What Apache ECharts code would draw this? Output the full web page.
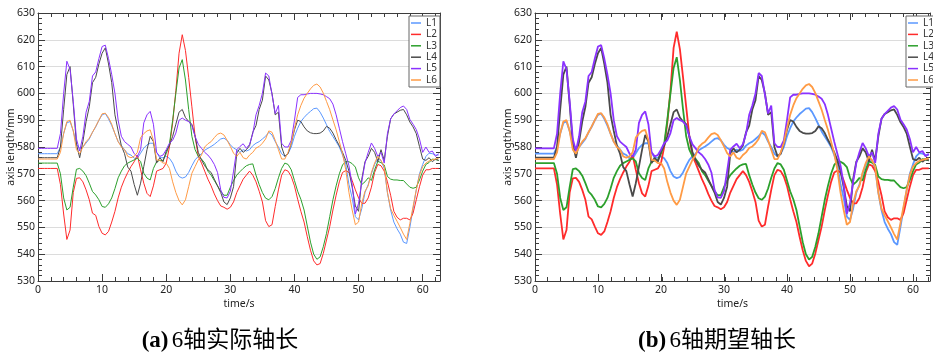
<!DOCTYPE html>
<html>
<head>
<meta charset="utf-8">
<script src="https://cdn.jsdelivr.net/npm/echarts@6/dist/echarts.min.js"></script>
<style>
html,body{margin:0;padding:0;background:#fff;}
#chart{width:933px;height:354px;}
</style>
</head>
<body>
<div id="chart"></div>
<script>
// Sample times (s): every 0.5 s from 0 to 62.5
const time = Array.from({length: 126}, (_, i) => i * 0.5);

const names = ['L1', 'L2', 'L3', 'L4', 'L5', 'L6'];
const colors = ['#5b98ff', '#ff2b2b', '#2ca02c', '#4a4a4a', '#8a32ff', '#ff9b45'];
const xTicks = [0, 10, 20, 30, 40, 50, 60];
const yTicks = [530, 540, 550, 560, 570, 580, 590, 600, 610, 620, 630];

// (a) measured axis lengths, mm (10 values per row = 5 s)
const actL1 = [
  577.5,577.5,577.5,577.5,577.5,577.5,577.5,580,585,589,
  589.5,586,581,579.5,580,581.5,583,585.5,587.5,590,
  592,592.5,590.5,588,585,582,580.5,579,577.5,577,
  575.8,575.8,577.7,579.6,580.8,581.4,581.4,578,576,576,
  576.5,575.8,574,571,569,568.4,568.8,570.5,573,575.2,
  576.5,577.5,578.8,579.5,580.2,581,582,583,583.3,582.5,
  580.8,579.6,579,578,579,578.5,579,580.5,581.4,582,
  583,584,585.5,584.5,582,580,577.5,576.5,577.5,580,
  584,587,589.5,591,592.3,593.3,594.3,594.5,593,590.8,
  588.3,585.8,583.9,582,580,577,573.5,566,561,554,
  552.8,557,563,566,570,573.5,575.5,575,572,563,
  556.5,552,549.5,547.5,544.5,544,550,557,564,570,
  573.5,576.5,577.7,577.5,577,577];
const actL2 = [
  572,572,572,572,572,572,572,566,555,545.5,
  549,563,568.3,568.5,567,564,560.3,555.3,554.5,550.3,
  547.8,547.2,548.5,552,556,561,565,568,570.5,572.7,
  574.5,577,571.5,566.5,562.7,561.5,565.5,571,571.5,572,
  574,580,589,601,615,621.9,616,606,595,584,
  576.5,574,571,568,565.5,562.5,560,558,557.5,556.8,
  557.5,559.5,563,565.5,568,569.5,571,569.5,567,563.5,
  559.5,552.5,550.3,551,557.8,564,569.5,571.5,571,569,
  565.5,560.5,556,552,546.5,541.5,537.5,536,536.5,540.3,
  545.3,550.3,556.5,562,567,570.5,571.2,570.5,567.5,564,
  561,559,559,561,565,570.5,573.5,573,571,567,
  562,556,553.8,552.8,553.4,553.4,552.8,555.3,560.3,565.2,
  569.5,571.5,571.5,572,572,572];
const actL3 = [
  574,574,574,574,574,574,574,570,561,556.5,
  557.5,565,571.7,572,571,569.3,566.5,563.4,562.1,560.3,
  557.8,557.5,558.8,561,564.5,568.5,571,573,574,574.6,
  575.2,575.8,574.6,570.2,568.4,567.7,572,574.5,575,575,
  577.5,581,590,600,609.5,612.6,605,594,584,579,
  576.5,575.5,574,571,569.5,567.5,565.5,563.5,562,562,
  565,567.5,569.5,570.8,572,573,573.5,573.7,569.5,566,
  563,560.9,560.3,561.5,564.5,568.5,572,574,573.5,571.5,
  567.5,563.5,560.5,556.5,550.5,544.5,540,538.1,539,542.8,
  547.8,554,560.3,565.5,570,573.3,574.6,574.5,573.8,572.5,
  568.5,566,567,568.5,567.5,571.5,574.6,574.2,573.3,569,
  568,567.7,567.7,567.5,567.5,566.2,565,564.6,565,567.7,
  571,573.5,574.2,575.5,575.3,575];
const actL4 = [
  576,576,576,576,576,576,576,580,594,607,
  610,596,581,576,582,589.5,595,604,606,611,
  615,617,611,604,592,586,580.5,577.5,572.5,571,
  566,562,566.5,572.7,579,584,582,574,576,574.5,
  578.5,580.5,584,588.5,593,594,591,589.5,588.5,584,
  578,575.2,573,571.5,570.5,568,565.5,563,559.5,558.5,
  561,565.2,577.7,579.5,578,579,580.5,585.5,588,594,
  597.5,606.5,605,600,592,593,580,576.5,577.5,581.4,
  586.4,590,589.5,587.5,586,585.3,585,585,585.2,586,
  587.7,587,585.2,582.7,580.5,578,575,571,565,558,
  556,568,574.5,576.5,579.5,578,574.5,579,575,584,
  590.5,592.3,593,593.7,594,592,589.3,587.5,585,580.2,
  575.5,575,576,574.5,575.5,575];
const actL5 = [
  579.5,579.5,579.5,579.5,579.5,579.5,579.5,585,600,612,
  609,597,583,578.5,584,593,597,606.5,608,613,
  617.5,618,613,607,600,590,584,582,581,580,
  577.5,576.5,579,589,592,593.3,588.5,578,576.5,577,
  579,581.4,582.5,585.2,590,590.8,590,589.5,588,584,
  581,579.5,578,577,575.5,573.5,570.5,564,561.2,561,
  563.5,571,579,580.2,581.2,579.5,581,585,592,595.5,
  600,607.6,606.5,599.5,592.5,595.5,581.4,580,580,582.5,
  590,598.5,599.5,599.5,599.8,600,600,600,599.8,599.5,
  598.8,598,596,592,587,582,577.5,573,566,555,
  559,567,574,578,581.5,579.5,576.5,578,574,585,
  590.5,592.3,593.5,594.7,595.3,594,590.3,588.5,586.5,583,
  578,580,578,578.5,576.5,577.5];
const actL6 = [
  575.5,575.5,575.5,575.5,575.5,575.5,575.5,578,585,589.5,
  590,586,579,577.5,580,582,583.3,585.5,587.7,590,
  592.4,592.6,591,588.5,585,582,580,579,576.5,576,
  576.5,578,583.5,585,586,586.4,582.5,575.2,575,574,
  574,572,567,563,560,558.4,560.3,565.2,570.2,572.7,
  575.2,577,580,581.2,582,583.5,584.8,585.2,584.5,582.5,
  580.2,577.7,576.5,578,576,575.5,577,578,579.6,580.2,
  581.4,583,586,585.5,582.5,579,575.5,575.5,578,581.5,
  587,592,595.5,598.2,600,601.7,603,603.5,602.4,600.1,
  597,593.9,590.1,586.4,582,577.5,571.5,563,556.5,551,
  552,559,563.5,565.5,570.5,574,576.5,575,572.7,563,
  557,554.5,552.3,550,547.5,545.5,551.5,557.8,564,569.5,
  572.7,574,574.8,575.2,575.5,575.8];

// (b) commanded (expected) axis lengths, mm
const expL1 = [
  577.5,577.5,577.5,577.5,577.5,577.5,577.5,580,585,589,
  589.5,586,581,579.5,580,581.5,583,585.5,587.5,590,
  592,592.5,590.5,588,585,582,580.5,579,577.5,577,
  575.8,575.8,577.7,579.6,580.8,581.4,581.4,578,576,576,
  576.5,575.8,574,571,569,568.4,568.8,570.5,573,575.2,
  576.5,577.5,578.8,579.5,580.2,581,582,583,583.3,582.5,
  580.8,579.6,579,578,579,578.5,579,580.5,581.4,582,
  583,584,585.5,584.5,582,580,577.5,576.5,577.5,580,
  584,587,589.5,591,592.3,593.3,594.3,594.5,593,590.8,
  588.3,585.8,583.9,582,580,577,573.5,566,561,554,
  552.8,557,563,566,570,573.5,575.5,575,572,563,
  556.5,552,549.5,547.5,544.5,543.5,550,557,564,570,
  573.5,576.5,577.7,577.5,577,577];
const expL2 = [
  572,572,572,572,572,572,572,566,555,545.5,
  549,563,568.3,568.5,567,564,560.3,554,553,550.3,
  547.8,547.2,548.5,552,556,561,565,568,570.5,572.7,
  574.5,577,571.5,566.5,562.7,561.5,565.5,571,571.5,572,
  574,580,589,601,617,623,616.5,606,595,584,
  576.5,574,571,568,565.5,562.5,560,558,557.5,556.8,
  557.5,559.5,563,565.5,568,569.5,571,569.5,567,563.5,
  559.5,552.5,550.3,551,557.8,564,569.5,571.5,571,569,
  565.5,560.5,556,552,546.5,541.5,537.5,535.5,536.5,540.3,
  545.3,550.3,556.5,562,567,570.5,571.2,570.5,567.5,564,
  561,559,559,561,565,570.5,573.5,573,571,567,
  562,556,553.8,552.8,553.4,553.4,552.8,555.3,560.3,565.2,
  569.5,571.5,571.5,572,572,572];
const expL3 = [
  574,574,574,574,574,574,574,570,561,556.5,
  557.5,565,571.7,572,571,569.3,566.5,563.4,562.1,560.3,
  557.8,557.5,558.8,561,564.5,568.5,571,573,574,574.6,
  575.2,575.8,574.6,570.2,568.4,567.7,572,574.5,575,575,
  577.5,581,590,600,609.5,613.5,605,594,584,579,
  576.5,575.5,574,571,569.5,567.5,565.5,563.5,562,562,
  565,567.5,569.5,570.8,572,573,573.5,573.7,569.5,566,
  563,560.9,560.3,561.5,564.5,568.5,572,574,573.5,571.5,
  567.5,563.5,560.5,556.5,550.5,544.5,540,538,539,542.8,
  547.8,554,560.3,565.5,570,573.3,574.6,574.5,573.8,572.5,
  568.5,566,567,568.5,567.5,571.5,574.6,574.2,573.3,569,
  568,567.7,567.7,567.5,567.5,566.2,565,564.6,565,567.7,
  571,573.5,574.2,575.5,575.3,575];
const expL4 = [
  576,576,576,576,576,576,576,580,594,607,
  610,596,581,576,582,589.5,595,604,606,611,
  615,617,611,604,592,586,580.5,577.5,572.5,571,
  566,561.5,566.5,572.7,579,584.5,582,574,576,574.5,
  578.5,580.5,584,588.5,593,594,591,589.5,588.5,584,
  578,575.2,573,571.5,570.5,568,565.5,563,559.5,558.5,
  561,565.2,577.7,579.5,578,579,580.5,585.5,588,594,
  597.5,606.5,605,600,592,593,580,576.5,577.5,581.4,
  586.4,590,589.5,587.5,586,585.3,585,585,585.2,586,
  587.7,587,585.2,582.7,580.5,578,575,571,565,558,
  556,568,574.5,576.5,579.5,578,574.5,579,575,584,
  590.5,592.3,593,593.7,594,592,589.3,587.5,585,580.2,
  575.5,575,576,574.5,575.5,575];
const expL5 = [
  579.5,579.5,579.5,579.5,579.5,579.5,579.5,585,600,612,
  609,597,583,578.5,584,593,597,606.5,608,613,
  617.5,618,613,607,600,590,584,582,581,580,
  577.5,576.5,579,589,592,593.3,588.5,578,576.5,577,
  579,581.4,582.5,585.2,590,590.8,590,589.5,588,584,
  581,579.5,578,577,575.5,573.5,570.5,564,561.2,561,
  563.5,571,579,580.2,581.2,579.5,581,585,592,595.5,
  600,607.6,606.5,599.5,592.5,595.5,581.4,580,580,582.5,
  590,598.5,599.5,599.5,599.8,600,600,600,599.8,599.5,
  598.8,598,596,592,587,582,577.5,573,566,555,
  559,567,574,578,581.5,579.5,576.5,578,574,585,
  590.5,592.3,593.5,594.7,595.3,594,590.3,588.5,586.5,583,
  578,580,578,578.5,576.5,577.5];
const expL6 = [
  575.5,575.5,575.5,575.5,575.5,575.5,575.5,578,585,589.5,
  590,586,579,577.5,580,582,583.3,585.5,587.7,590,
  592.4,592.6,591,588.5,585,582,580,579,576.5,576,
  576.5,578,583.5,585,586,586.4,582.5,575.2,575,574,
  574,572,567,563,560,558.4,560.3,565.2,570.2,572.7,
  575.2,577,580,581.2,582,583.5,584.8,585.2,584.5,582.5,
  580.2,577.7,576.5,578,576,575.5,577,578,579.6,580.2,
  581.4,583,586,585.5,582.5,579,575.5,575.5,578,581.5,
  587,592,595.5,598.2,600,601.7,603,603.5,602.4,600.1,
  597,593.9,590.1,586.4,582,577.5,571.5,563,556.5,551,
  552,559,563.5,565.5,570.5,574,576.5,575,572.7,563,
  557,554.5,552.3,550,547.5,545.5,551.5,557.8,564,569.5,
  572.7,574,574.8,575.2,575.5,575.8];

const actual = [actL1, actL2, actL3, actL4, actL5, actL6];
const expected = [expL1, expL2, expL3, expL4, expL5, expL6];

const X_MAX = 62.7;
const AX = '#3c3c3c';
const LABEL_FONT = 'Noto Sans';
const PLOT_TOP = 13, PLOT_H = 268, PLOT_W = 402;
const panelLeft = [38, 535];

const chart = echarts.init(document.getElementById('chart'), null, {renderer: 'canvas'});

const grids = [], xAxes = [], yAxes = [], series = [], legends = [];

function majorX(gridIndex, pos, withLabels) {
  return {
    type: 'value', gridIndex, position: pos, min: 0, max: X_MAX, interval: 10,
    axisLine: {show: true, onZero: false, lineStyle: {color: AX, width: 1}},
    axisTick: {show: true, inside: true, length: 7, lineStyle: {color: AX, width: 1}},
    axisLabel: withLabels ? {
      show: true, margin: 4, color: '#222', fontSize: 10.5, fontFamily: LABEL_FONT,
      formatter: v => (xTicks.indexOf(v) >= 0 ? String(v) : '')
    } : {show: false},
    splitLine: {show: false},
    name: withLabels ? 'time/s' : '', nameLocation: 'middle', nameGap: 18, nameMoveOverlap: false,
    nameTextStyle: {color: '#222', fontSize: 10.5, fontFamily: LABEL_FONT, verticalAlign: 'top'}
  };
}
// 2 s minor ticks of the time axis (on an overlay grid of the same size)
function minorX(gridIndex, pos) {
  return {
    type: 'value', gridIndex, position: pos, min: 0, max: X_MAX, interval: 2,
    axisLine: {show: false, onZero: false},
    axisTick: {show: true, inside: true, length: 4, lineStyle: {color: AX, width: 1}},
    axisLabel: {show: false}, splitLine: {show: false}
  };
}
function yAxisDef(gridIndex, pos, withLabels) {
  return {
    type: 'value', gridIndex, position: pos, min: yTicks[0], max: yTicks[yTicks.length - 1], interval: 10,
    axisLine: {show: true, onZero: false, lineStyle: {color: AX, width: 1}},
    axisTick: {show: true, inside: true, length: 7, lineStyle: {color: AX, width: 1}},
    minorTick: {show: true, splitNumber: 5, length: 4, lineStyle: {color: AX, width: 1}},
    axisLabel: withLabels ? {show: true, margin: 3, color: '#222', fontSize: 10.5, fontFamily: LABEL_FONT} : {show: false},
    splitLine: {show: withLabels, lineStyle: {color: '#dcdcdc', width: 1}},
    name: withLabels ? 'axis length/mm' : '', nameLocation: 'middle', nameGap: 21, nameMoveOverlap: false,
    nameTextStyle: {color: '#222', fontSize: 10.5, fontFamily: LABEL_FONT}
  };
}

panelLeft.forEach((left) => {
  grids.push({left, top: PLOT_TOP, width: PLOT_W, height: PLOT_H});
});
panelLeft.forEach((left) => {
  grids.push({left, top: PLOT_TOP, width: PLOT_W, height: PLOT_H});
});

panelLeft.forEach((left, p) => {
  xAxes.push(majorX(p, 'bottom', true));
  xAxes.push(majorX(p, 'top', false));
  yAxes.push(yAxisDef(p, 'left', true));
  yAxes.push(yAxisDef(p, 'right', false));
});
panelLeft.forEach((left, p) => {
  xAxes.push(minorX(2 + p, 'bottom'));
  xAxes.push(minorX(2 + p, 'top'));
  yAxes.push({type: 'value', gridIndex: 2 + p, min: yTicks[0], max: yTicks[yTicks.length - 1], show: false});
});

[actual, expected].forEach((set, p) => {
  set.forEach((vals, k) => {
    series.push({
      type: 'line', name: names[k], xAxisIndex: p * 2, yAxisIndex: p * 2,
      data: time.map((t, i) => [t, vals[i]]),
      symbol: 'none', smooth: false, clip: true, z: 2,
      lineStyle: {color: colors[k], width: p === 0 ? 1 : 1.8},
      itemStyle: {color: colors[k]},
      emphasis: {disabled: true}, animation: false
    });
  });
  legends.push({
    orient: 'vertical', left: panelLeft[p] + PLOT_W - 31, top: 16,
    padding: [2, 3, 2, 2], itemGap: 1.4, itemWidth: 10, itemHeight: 1.5,
    icon: 'rect',
    backgroundColor: '#fff', borderColor: '#666', borderWidth: 1, borderRadius: 0,
    textStyle: {fontSize: 10, lineHeight: 10, color: '#333', fontFamily: LABEL_FONT},
    data: names, selectedMode: false, z: 10
  });
});

const captions = [
  {x: 220, label: '(a)', text: '6轴实际轴长'},
  {x: 717, label: '(b)', text: '6轴期望轴长'}
];

chart.setOption({
  animation: false,
  backgroundColor: '#fff',
  grid: grids,
  xAxis: xAxes,
  yAxis: yAxes,
  legend: legends,
  series,
  graphic: captions.map(c => ({
    type: 'text', x: c.x, y: 341, z: 10,
    style: {
      text: '{b|' + c.label + '} {r|' + c.text + '}',
      align: 'center', verticalAlign: 'middle', fill: '#000',
      rich: {
        b: {fontFamily: '"Liberation Serif"', fontWeight: 'bold', fontSize: 23, fill: '#000'},
        r: {fontFamily: '"Liberation Serif", "Noto Sans CJK SC"', fontSize: 23, fill: '#000'}
      }
    }
  }))
});
</script>
</body>
</html>
